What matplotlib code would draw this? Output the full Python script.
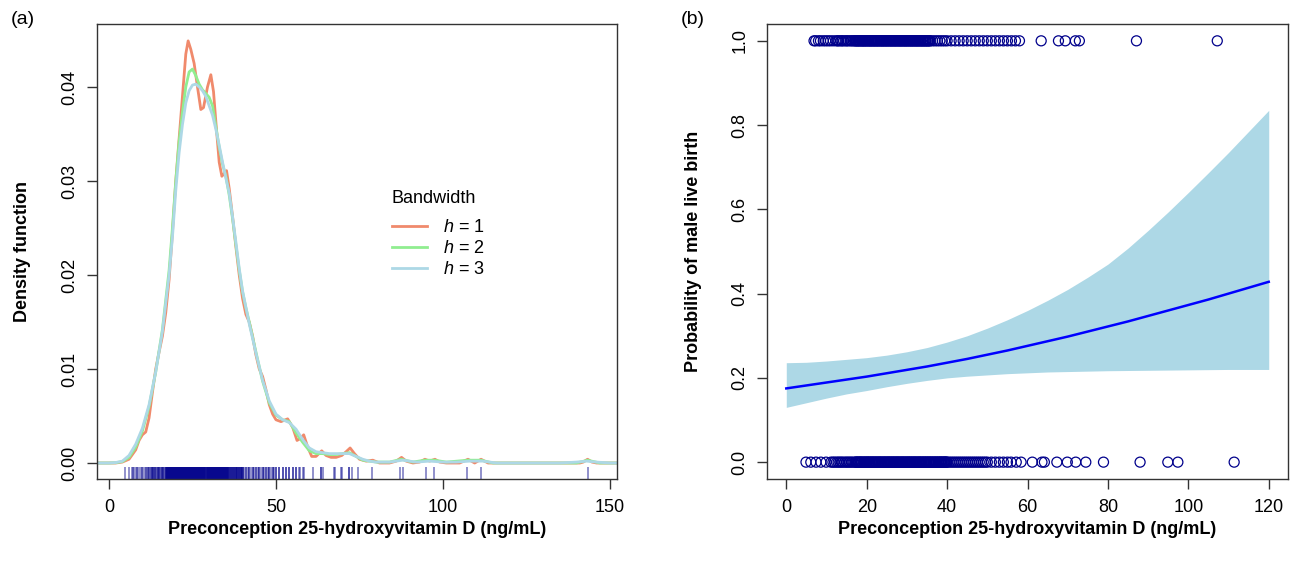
import matplotlib
matplotlib.use("Agg")
import matplotlib.pyplot as plt
import matplotlib.transforms as mtransforms

plt.rcParams['font.family'] = ['Liberation Sans', 'DejaVu Sans']
plt.rcParams['mathtext.fontset'] = 'custom'
plt.rcParams['mathtext.rm'] = 'Liberation Sans'
plt.rcParams['mathtext.it'] = 'Liberation Sans:italic'

# ---- panel (a): kernel density estimates ----
h3_x = [-3.6, 0, 2, 4, 6, 8, 10, 12, 14, 16, 18, 19, 20, 21, 22, 23, 24, 25, 26, 27, 28, 29,
        30, 31, 32, 33, 34, 35, 36, 37, 38, 39, 40, 42, 44, 46, 48, 50, 52, 54, 56, 58, 60,
        62, 64, 66, 68, 70, 72, 74, 76, 78, 80, 84, 88, 92, 96, 100, 104, 108, 112, 116,
        125, 135, 140, 143, 146, 150, 152.1]
h3_y = [0, 0, 0.00005, 0.0002, 0.0008, 0.0020, 0.0037, 0.0062, 0.0097, 0.0140, 0.0200,
        0.0240, 0.0290, 0.0330, 0.0360, 0.0383, 0.0396, 0.0402, 0.0403, 0.0400, 0.0396,
        0.0390, 0.0380, 0.0370, 0.0355, 0.0338, 0.0320, 0.0303, 0.0287, 0.0262, 0.0235,
        0.0207, 0.0183, 0.0148, 0.0117, 0.0088, 0.0066, 0.0052, 0.0046, 0.0043, 0.0036,
        0.0025, 0.0016, 0.0012, 0.0011, 0.0010, 0.0010, 0.0010, 0.0010, 0.0007, 0.0004,
        0.0002, 0.0001, 0.0001, 0.0003, 0.0001, 0.0002, 0.0001, 0.0001, 0.0002, 0.0002,
        0, 0, 0, 0.0001, 0.0002, 0.0001, 0, 0]

h2_x = [-3.6, 0, 2, 4, 6, 8, 10, 12, 14, 16, 18, 19, 20, 21, 22, 23, 24, 25, 26, 27, 28, 29,
        30, 31, 32, 33, 34, 35, 36, 37, 38, 39, 40, 41, 42, 44, 46, 48, 50, 52, 54, 56, 58,
        60, 62, 64, 66, 68, 70, 72, 74, 76, 78, 80, 84, 87.5, 91, 94.5, 97.5, 101, 107.5,
        111.4, 115, 125, 140, 143.3, 147, 152.1]
h2_y = [0, 0, 0.00003, 0.00015, 0.0006, 0.0017, 0.0034, 0.0060, 0.0097, 0.0142, 0.0205,
        0.0250, 0.0300, 0.0342, 0.0373, 0.0400, 0.0416, 0.0419, 0.0412, 0.0403, 0.0397,
        0.0393, 0.0389, 0.0380, 0.0358, 0.0336, 0.0318, 0.0305, 0.0285, 0.0260, 0.0232,
        0.0205, 0.0182, 0.0165, 0.0150, 0.0118, 0.0087, 0.0064, 0.0051, 0.0046, 0.0044,
        0.0032, 0.0022, 0.0013, 0.0010, 0.0010, 0.0009, 0.0009, 0.0010, 0.0011, 0.0007,
        0.0003, 0.0002, 0.0001, 0.0001, 0.0004, 0.0001, 0.0003, 0.0003, 0.0001, 0.0003,
        0.0003, 0, 0, 0, 0.0003, 0, 0]

h1_x = [-3.6, 0, 2, 4, 6, 8, 9, 10, 11, 12, 13, 14, 15, 16, 17, 18, 19, 20, 21, 22, 23,
        23.7, 24.5, 25.5, 26.5, 27.5, 28.3, 29.5, 30.5, 31.3, 32.2, 33, 33.8, 34.5, 35.2,
        36, 37, 38, 39, 40, 41, 42, 43, 44, 45, 46, 47, 48, 49, 50, 51.5, 53.5, 55, 56.3,
        57.3, 58.3, 59.5, 60.7, 62, 63.7, 65, 66.5, 68, 69.7, 71, 72.2, 73.5, 75, 77, 79,
        81, 84, 86, 87.6, 89, 91, 93, 94.6, 96, 97.6, 99, 101, 105, 107.5, 109.5, 111.4,
        113.5, 118, 130, 141, 142, 143.3, 144.6, 146, 152.1]
h1_y = [0, 0, 0, 0.0001, 0.0004, 0.0014, 0.0024, 0.0030, 0.0033, 0.0048, 0.0075, 0.0100,
        0.0118, 0.0135, 0.0160, 0.0195, 0.0245, 0.0300, 0.0345, 0.0390, 0.0435, 0.0449,
        0.0440, 0.0425, 0.0400, 0.0376, 0.0378, 0.0400, 0.0413, 0.0395, 0.0354, 0.0320,
        0.0305, 0.0308, 0.0311, 0.0292, 0.0262, 0.0230, 0.0200, 0.0175, 0.0158, 0.0150,
        0.0135, 0.0115, 0.0100, 0.0092, 0.0078, 0.0062, 0.0052, 0.0046, 0.0044, 0.0047,
        0.0038, 0.0024, 0.0026, 0.0030, 0.0017, 0.0007, 0.0007, 0.0013, 0.0008, 0.0006,
        0.0006, 0.0008, 0.0012, 0.0016, 0.0010, 0.0004, 0.0002, 0.0003, 0, 0, 0.0002,
        0.0006, 0.0002, 0, 0.0001, 0.0004, 0.0002, 0.0004, 0.0001, 0, 0, 0.0004, 0, 0.0004,
        0, 0, 0, 0, 0.0001, 0.0004, 0.0001, 0, 0]

# ---- observed 25(OH)D values by outcome (1 = male live birth, 0 = otherwise) ----
vitd_male = [6.9, 7.3, 8.0, 8.5, 9.2, 9.8, 10.4, 11.0, 11.7, 12.4,
             12.8, 13.1, 13.6, 13.9, 14.3, 14.8, 15.1, 15.5, 16.0, 16.3, 16.7,
             17.0, 17.2, 17.5, 17.6, 17.8, 18.1, 18.2, 18.4, 18.7, 18.9, 19.0, 19.2, 19.5,
             19.6, 19.8, 20.0, 20.3, 20.4, 20.6, 20.9, 21.0, 21.2, 21.4, 21.7, 21.8, 22.0,
             22.2, 22.5, 22.6, 22.8, 23.0, 23.3, 23.4, 23.6, 23.9, 24.0, 24.2, 24.4, 24.7,
             24.8, 25.0, 25.2, 25.5, 25.6, 25.8, 26.1, 26.2, 26.4, 26.6, 26.9, 27.0, 27.2,
             27.4, 27.7, 27.8, 28.0, 28.3, 28.4, 28.6, 28.8, 29.1, 29.2, 29.4, 29.7, 29.8,
             30.0, 30.2, 30.5, 30.6, 30.8, 31.1, 31.2, 31.4, 31.6, 31.9, 32.0, 32.2, 32.5,
             32.6, 32.8, 33.0, 33.3, 33.4, 33.6, 33.9, 34.0, 34.2, 34.5, 34.6, 34.8, 35.1,
             35.2, 35.4, 35.7, 35.8, 36.4, 37.0, 37.6, 38.2, 38.8, 39.4, 40.0, 41.0, 42.0,
             43.0, 44.0, 45.0, 46.0, 47.0, 48.0, 49.0, 50.0, 51.0, 52.0, 53.0, 54.0, 55.0,
             56.0, 57.0, 58.0, 63.4, 67.7, 69.4, 71.9, 72.9, 87.1, 107.2]
vitd_female = [4.9, 6.1, 7.4, 8.6, 9.9, 11.1,
               11.6, 12.0, 12.5, 12.9, 13.3, 13.7, 14.1, 14.6, 15.0, 15.4, 15.8, 16.2, 16.6,
               17.1, 17.3, 17.4, 17.7, 17.9, 18.0, 18.3, 18.5, 18.6, 18.8, 19.1, 19.3, 19.4,
               19.7, 19.9, 20.1, 20.2, 20.5, 20.7, 20.8, 21.1, 21.3, 21.5, 21.6, 21.9, 22.1,
               22.3, 22.4, 22.7, 22.9, 23.1, 23.2, 23.5, 23.7, 23.8, 24.1, 24.3, 24.5, 24.6,
               24.9, 25.1, 25.3, 25.4, 25.7, 25.9, 26.0, 26.3, 26.5, 26.7, 26.8, 27.1, 27.3,
               27.5, 27.6, 27.9, 28.1, 28.2, 28.5, 28.7, 28.9, 29.0, 29.3, 29.5, 29.6, 29.9,
               30.1, 30.3, 30.4, 30.7, 30.9, 31.0, 31.3, 31.5, 31.7, 31.8, 32.1, 32.3, 32.4,
               32.7, 32.9, 33.1, 33.2, 33.5, 33.7, 33.8, 34.1, 34.3, 34.4, 34.7, 34.9, 35.0,
               35.3, 35.5, 35.6, 35.9, 36.1, 36.2, 36.5, 36.7, 36.8, 37.1, 37.3, 37.4, 37.7,
               37.9, 38.0, 38.3, 38.4, 38.6, 38.8, 39.0, 39.2, 39.4, 39.5, 39.7, 39.9,
               40.0, 40.5, 41.0, 41.5, 42.0, 42.5, 43.0, 43.5, 44.0, 44.5, 45.0, 45.5, 46.0,
               46.5, 47.0, 47.5, 48.0, 48.5, 49.0, 49.5, 50.0, 51.0, 52.0, 53.0, 54.0, 55.0,
               55.9, 57.2, 58.4, 61.2, 63.6, 64.2, 67.3, 69.9, 72.0, 74.5, 78.9, 88.0, 94.9,
               97.4, 111.4, 143.3]

# ---- panel (b): fitted probability and 95% band ----
fit_x = [0, 5, 10, 15, 20, 25, 30, 35, 40, 45, 50, 55, 60, 65, 70, 75, 80, 85, 90, 95,
         100, 105, 110, 115, 120]
fit_p = [0.175, 0.182, 0.189, 0.196, 0.203, 0.211, 0.219, 0.227, 0.236, 0.245, 0.255,
         0.265, 0.276, 0.287, 0.298, 0.310, 0.322, 0.334, 0.347, 0.360, 0.373, 0.386,
         0.400, 0.414, 0.428]
fit_lo = [0.130, 0.141, 0.152, 0.162, 0.170, 0.179, 0.187, 0.194, 0.200, 0.204, 0.207,
          0.210, 0.212, 0.214, 0.215, 0.216, 0.217, 0.2175, 0.218, 0.2185, 0.219, 0.2195,
          0.220, 0.220, 0.220]
fit_hi = [0.236, 0.237, 0.240, 0.244, 0.248, 0.254, 0.262, 0.272, 0.285, 0.300, 0.318,
          0.338, 0.360, 0.384, 0.410, 0.439, 0.470, 0.508, 0.550, 0.594, 0.640, 0.687,
          0.735, 0.785, 0.835]

fs = 13
box_col = '#333333'

fig = plt.figure(figsize=(12.91, 5.68), dpi=100)
ax1 = fig.add_axes([0.0751, 0.1567, 0.4028, 0.8011])
ax2 = fig.add_axes([0.5941, 0.1567, 0.4036, 0.8011])

for ax in (ax1, ax2):
    for s in ax.spines.values():
        s.set_color(box_col)
        s.set_linewidth(1.0)
    ax.tick_params(direction='out', length=7.2, width=1, color=box_col,
                   labelsize=fs, pad=6)
    ax.tick_params(axis='x', pad=7)

# panel a
l1, = ax1.plot(h1_x, h1_y, color='#F08A6C', lw=2)
l2, = ax1.plot(h2_x, h2_y, color='#90EE90', lw=2)
l3, = ax1.plot(h3_x, h3_y, color='#ADD8E6', lw=2)
rug = vitd_male + vitd_female
trans = mtransforms.blended_transform_factory(ax1.transData, ax1.transAxes)
ax1.vlines(rug, 0, 0.027, transform=trans, color='#00008B', alpha=0.55, lw=1.1)
ax1.set_xlim(-3.6, 152.1)
ax1.set_ylim(-0.0017, 0.0467)
ax1.set_xticks([0, 50, 100, 150])
ax1.set_yticks([0, 0.01, 0.02, 0.03, 0.04])
ax1.set_yticklabels(['0.00', '0.01', '0.02', '0.03', '0.04'], rotation=90, va='center')
ax1.set_xlabel('Preconception 25-hydroxyvitamin D (ng/mL)', fontsize=fs, fontweight='bold', labelpad=4)
ax1.set_ylabel('Density function', fontsize=fs, fontweight='bold', labelpad=22)
ax1.text(0.567, 0.616, 'Bandwidth', transform=ax1.transAxes, fontsize=fs, va='center', ha='left')
ax1.legend([l1, l2, l3], ['$h$ = 1', '$h$ = 2', '$h$ = 3'], loc='upper left',
           bbox_to_anchor=(0.567, 0.571), borderaxespad=0, borderpad=0, frameon=False,
           fontsize=fs, handlelength=1.95, handletextpad=0.9, labelspacing=0.22)

# panel b
ax2.fill_between(fit_x, fit_lo, fit_hi, color='#ADD8E6', lw=0)
ax2.plot(fit_x, fit_p, color='#0000FF', lw=1.8)
ax2.scatter(vitd_male, [1] * len(vitd_male), s=52, facecolors='none',
            edgecolors='#00008B', linewidths=0.9)
ax2.scatter(vitd_female, [0] * len(vitd_female), s=52, facecolors='none',
            edgecolors='#00008B', linewidths=0.9)
ax2.set_xlim(-4.8, 124.8)
ax2.set_ylim(-0.04, 1.04)
ax2.set_xticks([0, 20, 40, 60, 80, 100, 120])
ax2.set_yticks([0, 0.2, 0.4, 0.6, 0.8, 1.0])
ax2.set_yticklabels(['0.0', '0.2', '0.4', '0.6', '0.8', '1.0'], rotation=90, va='center')
ax2.set_xlabel('Preconception 25-hydroxyvitamin D (ng/mL)', fontsize=fs, fontweight='bold', labelpad=4)
ax2.set_ylabel('Probability of male live birth', fontsize=fs, fontweight='bold', labelpad=21)

fig.text(0.008, 0.965, '(a)', fontsize=14, va='center')
fig.text(0.527, 0.965, '(b)', fontsize=14, va='center')

fig.savefig('out.png', dpi=100, facecolor='white')
